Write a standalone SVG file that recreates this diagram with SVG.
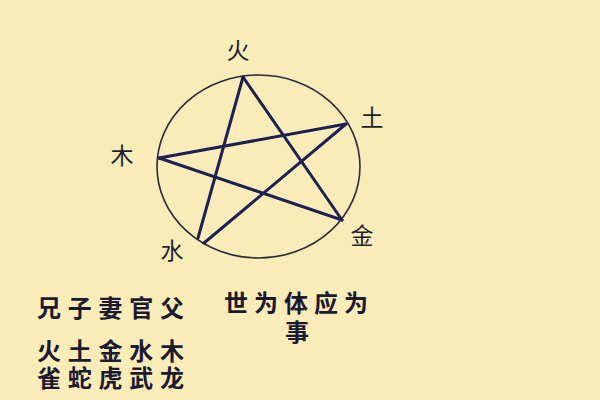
<svg xmlns="http://www.w3.org/2000/svg" width="600" height="400" viewBox="0 0 600 400">
<style>
.lbl{font-family:"Noto Sans CJK SC","Noto Sans CJK JP",sans-serif;font-size:23px;fill:#1e1e30;text-anchor:middle}
.txt{font-family:"Noto Sans CJK SC","Noto Sans CJK JP",sans-serif;font-size:24px;font-weight:bold;fill:#1a1a30}
.star{stroke:#1c2152;stroke-width:3;stroke-linecap:round;fill:none}
</style>
<rect width="600" height="400" fill="#f9ecb9"/>
<g id="connectors">
<ellipse cx="258.5" cy="166.5" rx="101.5" ry="91.5" fill="none" stroke="#2a2a3a" stroke-width="1.6"/>
<line class="star" x1="243" y1="77" x2="198" y2="238"/>
<line class="star" x1="243" y1="77" x2="342" y2="220"/>
<line class="star" x1="159" y1="158" x2="346" y2="124"/>
<line class="star" x1="159" y1="158" x2="342" y2="220"/>
<line class="star" x1="346" y1="124" x2="204" y2="243"/>
</g>
<g id="fire"><text class="lbl" x="238" y="59">火</text></g>
<g id="earth"><text class="lbl" x="372" y="126">土</text></g>
<g id="wood"><text class="lbl" x="122" y="164">木</text></g>
<g id="water"><text class="lbl" x="172" y="259">水</text></g>
<g id="metal"><text class="lbl" x="362" y="244">金</text></g>
<g id="notes">
<text class="txt" x="37" y="317" textLength="147" lengthAdjust="spacing">兄子妻官父</text>
<text class="txt" x="37" y="360" textLength="147" lengthAdjust="spacing">火土金水木</text>
<text class="txt" x="37" y="387" textLength="147" lengthAdjust="spacing">雀蛇虎武龙</text>
<text class="txt" x="224" y="312" textLength="144" lengthAdjust="spacing">世为体应为</text>
<text class="txt" x="297" y="341" text-anchor="middle">事</text>
</g>
</svg>
